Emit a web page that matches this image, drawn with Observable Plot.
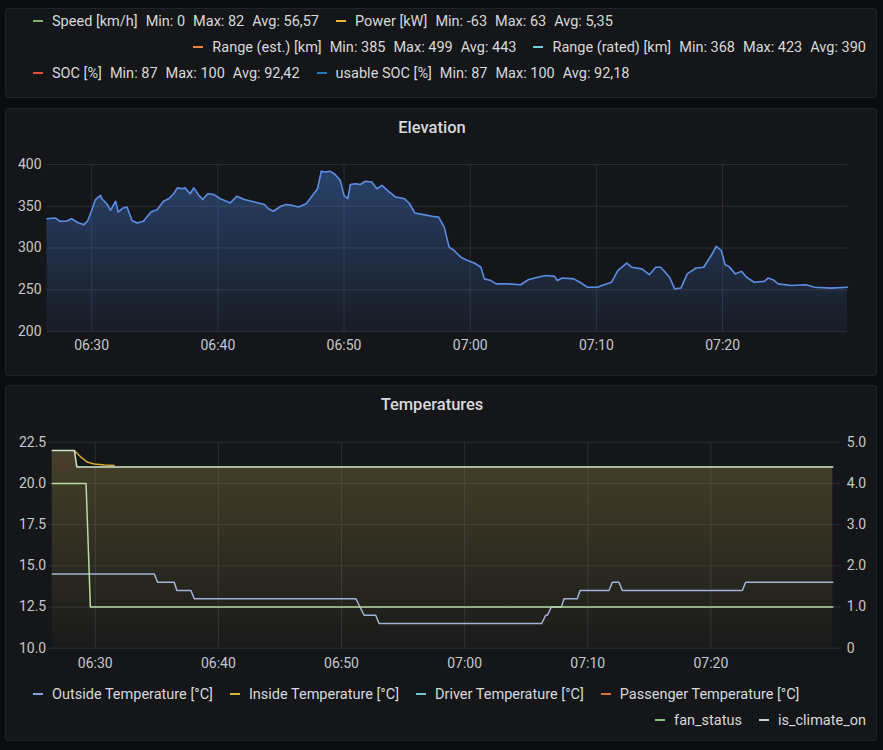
<!DOCTYPE html>
<html><head><meta charset="utf-8">
<script src="https://cdn.jsdelivr.net/npm/d3@7"></script>
<script src="https://cdn.jsdelivr.net/npm/@observablehq/plot@0.6"></script>
<style>
html,body{margin:0;padding:0;background:#0b0c0e;}
#root{position:relative;width:883px;height:750px;overflow:hidden;font-family:Roboto,"Noto Sans",sans-serif;color:#d8d9da;}
.panel{position:absolute;left:5px;width:872px;background:#141619;border:1px solid #212328;border-radius:3px;box-sizing:border-box;}
.title{position:absolute;left:0;width:852px;text-align:center;font-size:16.5px;font-weight:500;color:#d8d9da;line-height:20px;}
.lrow{position:absolute;font-size:14.5px;white-space:nowrap;line-height:18px;color:#d8d9da;}
.item{display:inline-block;margin-right:17px;}
.item:last-child{margin-right:0;}
.dash{display:inline-block;width:10px;height:2px;vertical-align:middle;margin-right:9px;position:relative;top:-1px;}
.part{margin-right:8px;}
.part:last-child{margin-right:0;}
.chart{position:absolute;left:0;}
</style></head><body><div id="root">
<div class="panel" style="top:8px;height:90px;"></div>
<div class="panel" style="top:108px;height:268px;"><div class="title" style="top:9px;">Elevation</div></div>
<div class="panel" style="top:385px;height:356px;"><div class="title" style="top:9px;">Temperatures</div></div>
<div id="legTop1" class="lrow" style="left:33px;top:13px;"></div>
<div id="legTop2" class="lrow" style="right:17px;top:39px;"></div>
<div id="legTop3" class="lrow" style="left:33px;top:65px;"></div>
<div id="elev" class="chart" style="top:140px;"></div>
<div id="temp" class="chart" style="top:420px;"></div>
<div id="legBot1" class="lrow" style="left:33px;top:686px;"></div>
<div id="legBot2" class="lrow" style="right:17px;top:712px;"></div>
</div>
<script>
// ---------- top legend ----------
const topNames = ["Speed [km/h]", "Power [kW]", "Range (est.) [km]", "Range (rated) [km]", "SOC [%]", "usable SOC [%]"];
const topColors = ["#7eb26d", "#eab839", "#ef843c", "#6ed0e0", "#e24d42", "#1f78c1"];
const topMin = ["0", "-63", "385", "368", "87", "87"];
const topMax = ["82", "63", "499", "423", "100", "100"];
const topAvg = ["56,57", "5,35", "443", "390", "92,42", "92,18"];

// ---------- elevation ----------
const elevMin = [26.46, 27.1, 27.5, 28.0, 28.4, 28.97, 29.4, 29.7, 30.0, 30.3, 30.7, 30.8, 31.2, 31.5, 31.9, 32.1, 32.5, 32.8, 33.2, 33.6, 34.1, 34.7, 35.2, 35.7, 36.1, 36.5, 36.8, 37.2, 37.4, 37.8, 38.1, 38.5, 38.8, 39.2, 39.7, 40.2, 41.0, 41.5, 42.1, 42.9, 43.7, 44.0, 44.4, 45.0, 45.4, 45.9, 46.4, 47.0, 47.5, 47.9, 48.2, 48.5, 48.9, 49.3, 49.7, 50.0, 50.3, 50.5, 50.9, 51.3, 51.7, 52.2, 52.6, 53.0, 53.6, 54.1, 54.8, 55.2, 55.6, 56.3, 57.0, 57.5, 57.94, 58.33, 58.73, 59.26, 59.79, 60.32, 60.85, 61.11, 61.64, 62.04, 62.97, 64.0, 64.6, 65.35, 66.0, 66.7, 66.9, 67.3, 68.2, 68.8, 69.3, 70.1, 70.6, 71.2, 71.7, 72.4, 72.8, 73.6, 74.2, 74.7, 75.1, 75.8, 76.2, 76.7, 77.2, 77.9, 78.5, 79.1, 79.5, 79.9, 80.2, 80.5, 81.0, 81.5, 81.9, 82.5, 83.3, 83.6, 84.0, 84.4, 85.45, 86.6, 87.3, 88.6, 89.9];
const elevVal = [335, 336, 332, 332, 335, 330, 328, 333, 345, 358, 363, 359, 353, 345, 356, 343, 348, 349, 333, 330, 332, 343, 346, 356, 359, 365, 372, 371, 372, 365, 372, 363, 358, 365, 364, 359, 354, 362, 358, 355, 352, 347, 344, 350, 352, 351, 349, 353, 363, 371, 392, 391, 392, 388, 381, 363, 359, 376, 377, 376, 380, 379, 371, 375, 367, 361, 359, 353, 342, 340, 338, 337, 325, 301, 297, 289, 285, 282, 277, 263, 261, 257, 257, 256, 262, 265, 267, 266, 261, 264, 263, 258, 253, 253, 256, 259, 273, 282, 277, 275, 268, 277, 277, 265, 251, 252, 269, 276, 277, 291, 302, 297, 280, 278, 269, 272, 265, 259, 260, 264, 262, 257, 255, 256, 253, 252, 253];
const elevTicks = [200, 250, 300, 350, 400];
const timeTickLabels = ["06:30", "06:40", "06:50", "07:00", "07:10", "07:20"];
const timeDomainMin = [26.5, 89.9];

// ---------- temperatures ----------
const outsideMin = [26.5, 34.79, 35.06, 36.41, 36.63, 37.77, 38.04, 51.17, 51.83, 52.78, 53.05, 66.26, 66.58, 66.72, 67.04, 67.86, 68.07, 69.15, 69.37, 71.72, 72.0, 72.53, 72.81, 82.55, 82.82, 89.9];
const outsideVal = [14.5, 14.5, 14.0, 14.0, 13.5, 13.5, 13.0, 13.0, 12.0, 12.0, 11.5, 11.5, 12.0, 12.0, 12.5, 12.5, 13.0, 13.0, 13.5, 13.5, 14.0, 14.0, 13.5, 13.5, 14.0, 14.0];
const insideMin = [28.3, 28.84, 29.38, 29.92, 30.73, 31.54];
const insideVal = [22.0, 21.59, 21.28, 21.18, 21.12, 21.08];
const driverMin = [26.5, 28.3, 28.5, 89.9];
const driverVal = [22.0, 22.0, 21.0, 21.0];
const fanMin = [26.5, 29.25, 29.6, 89.9];
const fanVal = [4, 4, 1, 1]; // right axis units
const tempTicks = [10, 12.5, 15, 17.5, 20, 22.5];
const rightTickLabels = ["0", "1.0", "2.0", "3.0", "4.0", "5.0"];

const botNames = ["Outside Temperature [°C]", "Inside Temperature [°C]", "Driver Temperature [°C]", "Passenger Temperature [°C]", "fan_status", "is_climate_on"];
const botColors = ["#7fa6dc", "#d9b63a", "#6ec6c8", "#e0733a", "#8fc27e", "#d0d2d4"];

// ---------- legends ----------
function legendItem(color, parts) {
  const it = document.createElement("span");
  it.className = "item";
  const d = document.createElement("span");
  d.className = "dash"; d.style.background = color;
  it.appendChild(d);
  parts.forEach(p => { const s = document.createElement("span"); s.className = "part"; s.textContent = p; it.appendChild(s); });
  return it;
}
function topItem(i) { return legendItem(topColors[i], [topNames[i], "Min: " + topMin[i], "Max: " + topMax[i], "Avg: " + topAvg[i]]); }
[[0,1,"legTop1"],[2,3,"legTop2"],[4,5,"legTop3"]].forEach(([a,b,id]) => {
  const el = document.getElementById(id); el.appendChild(topItem(a)); el.appendChild(topItem(b));
});
[0,1,2,3].forEach(i => document.getElementById("legBot1").appendChild(legendItem(botColors[i], [botNames[i]])));
[4,5].forEach(i => document.getElementById("legBot2").appendChild(legendItem(botColors[i], [botNames[i]])));

// ---------- helpers ----------
const toDate = m => new Date(Date.UTC(2020, 0, 1, 6, 0, 0) + m * 60000);
const labelToDate = s => { const [h, m] = s.split(":").map(Number); return toDate(h * 60 + m - 360); };
const xTicks = timeTickLabels.map(labelToDate);
const xDomain = timeDomainMin.map(toDate);
const gridColor = "#2c2e33";
const axisStyle = {background: "transparent", color: "#c3c8cf", fontSize: "14px", fontFamily: "Roboto, sans-serif", overflow: "visible"};

function gradientDefs(id, color, o1, o2) {
  return () => {
    const d = d3.create("svg:defs");
    const g = d.append("linearGradient").attr("id", id).attr("x1", 0).attr("x2", 0).attr("y1", 0).attr("y2", 1);
    g.append("stop").attr("offset", "0%").attr("stop-color", color).attr("stop-opacity", o1);
    g.append("stop").attr("offset", "100%").attr("stop-color", color).attr("stop-opacity", o2);
    return d.node();
  };
}

// ---------- elevation chart ----------
const elev = elevMin.map((m, i) => ({t: toDate(m), v: elevVal[i]}));
const elevPlot = Plot.plot({
  width: 883, height: 230,
  marginLeft: 47, marginRight: 36, marginTop: 24, marginBottom: 39,
  style: axisStyle,
  x: {type: "utc", domain: xDomain, ticks: xTicks, tickFormat: d3.utcFormat("%H:%M"), tickSize: 0, tickPadding: 9, label: null},
  y: {domain: [200, 400], ticks: elevTicks, tickSize: 0, tickPadding: 6, label: null},
  marks: [
    gradientDefs("elevGrad", "#4a82e0", 0.40, 0.06),
    Plot.ruleY(elevTicks, {stroke: gridColor}),
    Plot.ruleX(xTicks, {stroke: gridColor}),
    Plot.areaY(elev, {x: "t", y1: 200, y2: "v", fill: "url(#elevGrad)"}),
    Plot.lineY(elev, {x: "t", y: "v", stroke: "#5a8de4", strokeWidth: 1.6})
  ]
});
document.getElementById("elev").appendChild(elevPlot);

// ---------- temperature chart ----------
const outside = outsideMin.map((m, i) => ({t: toDate(m), v: outsideVal[i]}));
const inside = insideMin.map((m, i) => ({t: toDate(m), v: insideVal[i]}));
const driver = driverMin.map((m, i) => ({t: toDate(m), v: driverVal[i]}));
const fan = fanMin.map((m, i) => ({t: toDate(m), v: fanVal[i]}));
const tempPlot = Plot.plot({
  width: 883, height: 260,
  marginLeft: 51.7, marginRight: 50.7, marginTop: 21.7, marginBottom: 32.3,
  style: axisStyle,
  x: {type: "utc", domain: xDomain, ticks: xTicks, tickFormat: d3.utcFormat("%H:%M"), tickSize: 0, tickPadding: 10, label: null},
  y: {domain: [10, 22.5], ticks: tempTicks, tickFormat: d => d.toFixed(1), tickSize: 0, tickPadding: 6, label: null},
  marks: [
    gradientDefs("tempGrad", "#b49a48", 0.32, 0.03),
    Plot.ruleY(tempTicks, {x1: toDate(26.2), x2: toDate(90.55), stroke: gridColor}),
    Plot.ruleX(xTicks, {stroke: gridColor}),
    Plot.areaY(driver, {x: "t", y1: 10, y2: "v", fill: "url(#tempGrad)"}),
    Plot.lineY(outside, {x: "t", y: "v", stroke: "#a0b4da", strokeWidth: 1.5}),
    Plot.lineY(fan, {x: "t", y: d => d.v * 2.5 + 10, stroke: "#b4dba0", strokeWidth: 1.5}),
    Plot.lineY(inside, {x: "t", y: "v", stroke: "#d4a82e", strokeWidth: 1.5}),
    Plot.lineY(driver, {x: "t", y: "v", stroke: "#cfe6cf", strokeWidth: 1.5}),
    Plot.text(tempTicks, {y: d => d, text: (d, i) => rightTickLabels[i], frameAnchor: "right", dx: 14, textAnchor: "start", fill: "#c3c8cf", fontSize: 14})
  ]
});
document.getElementById("temp").appendChild(tempPlot);
</script>
</body></html>
